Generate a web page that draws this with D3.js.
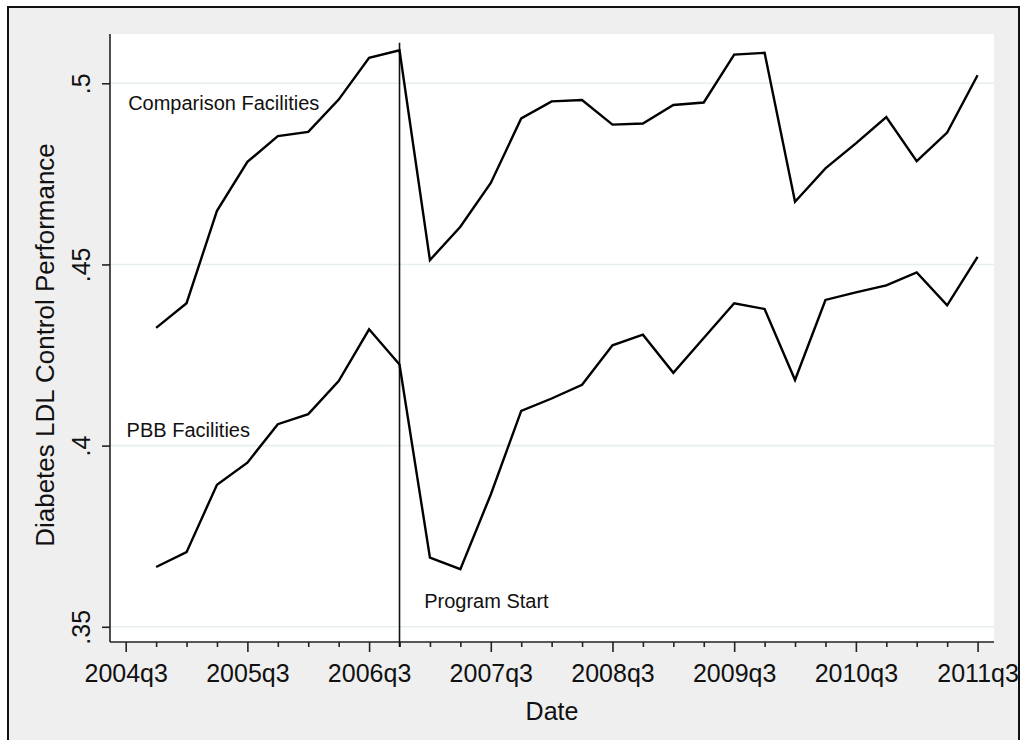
<!DOCTYPE html>
<html>
<head>
<meta charset="utf-8">
<script src="https://cdn.jsdelivr.net/npm/d3@7"></script>
<style>
  html, body { margin: 0; padding: 0; background: #ffffff; }
  svg { display: block; }
  text { font-family: "Liberation Sans", Arial, sans-serif; fill: #111; }
</style>
</head>
<body>
<svg id="chart" width="1021" height="740"></svg>
<script>
// Quarterly observation dates
const quarters = [
  "2004q4", "2005q1", "2005q2", "2005q3", "2005q4", "2006q1", "2006q2",
  "2006q3", "2006q4", "2007q1", "2007q2", "2007q3", "2007q4", "2008q1",
  "2008q2", "2008q3", "2008q4", "2009q1", "2009q2", "2009q3", "2009q4",
  "2010q1", "2010q2", "2010q3", "2010q4", "2011q1", "2011q2", "2011q3"
];

// Diabetes LDL control performance, comparison facilities
const comparison = [
  0.4325, 0.4393, 0.4648, 0.4783, 0.4854, 0.4866, 0.4955,
  0.5070, 0.5091, 0.4512, 0.4604, 0.4725, 0.4903, 0.4950,
  0.4954, 0.4886, 0.4889, 0.4940, 0.4947, 0.5079, 0.5084,
  0.4673, 0.4765, 0.4834, 0.4907, 0.4785, 0.4864, 0.5022
];

// Diabetes LDL control performance, PBB facilities
const pbb = [
  0.3665, 0.3706, 0.3892, 0.3953, 0.4059, 0.4087, 0.4178,
  0.4321, 0.4224, 0.3691, 0.3659, 0.3865, 0.4096, 0.4130,
  0.4168, 0.4277, 0.4306, 0.4201, 0.4297, 0.4393, 0.4377,
  0.4181, 0.4402, 0.4423, 0.4442, 0.4478, 0.4387, 0.4521
];

// Axis ticks
const yTicks = [0.35, 0.40, 0.45, 0.50];
const yTickLabels = [".35", ".4", ".45", ".5"];
const xMajorTicks = ["2004q3", "2005q3", "2006q3", "2007q3", "2008q3", "2009q3", "2010q3", "2011q3"];
const xMinorTicks = [
  "2004q4", "2005q1", "2005q2", "2005q4", "2006q1", "2006q2", "2006q4",
  "2007q1", "2007q2", "2007q4", "2008q1", "2008q2", "2008q4", "2009q1",
  "2009q2", "2009q4", "2010q1", "2010q2", "2010q4", "2011q1", "2011q2"
];

// Program start marker and in-plot annotations
const programStart = "2006q4";
const annotations = [
  { text: "Comparison Facilities", quarter: "2004q3", value: 0.4945, dq: 0.08 },
  { text: "PBB Facilities", quarter: "2004q3", value: 0.4043, dq: 0.03 },
  { text: "Program Start", quarter: "2007q1", value: 0.3571, dq: -0.19 }
];

// Stata-style quarterly date number (quarters since 1960q1)
function tq(s) {
  const [y, q] = s.split("q").map(Number);
  return (y - 1960) * 4 + (q - 1);
}

const svg = d3.select("#chart");

// Layout
const plot = { left: 110, right: 994, top: 34, bottom: 642 };

const x = d3.scaleLinear()
  .domain([tq("2004q3") - 0.516, tq("2011q3") + 0.54])
  .range([plot.left, plot.right]);

const y = d3.scaleLinear()
  .domain([0.3458, 0.5136])
  .range([plot.bottom, plot.top]);

// Outer graph region
svg.append("rect")
  .attr("x", 8).attr("y", 7)
  .attr("width", 1011).attr("height", 745)
  .attr("fill", "#efefef")
  .attr("stroke", "#111")
  .attr("stroke-width", 2);

// Plot region
svg.append("rect")
  .attr("x", plot.left).attr("y", plot.top)
  .attr("width", plot.right - plot.left)
  .attr("height", plot.bottom - plot.top)
  .attr("fill", "#ffffff");

// Horizontal gridlines
svg.append("g")
  .selectAll("line")
  .data(yTicks)
  .join("line")
  .attr("x1", plot.left).attr("x2", plot.right)
  .attr("y1", d => y(d)).attr("y2", d => y(d))
  .attr("stroke", "#e6eeef")
  .attr("stroke-width", 1.6);

// Y axis
const yAxis = svg.append("g")
  .attr("transform", `translate(${plot.left},0)`)
  .call(d3.axisLeft(y)
    .tickValues(yTicks)
    .tickFormat((d, i) => yTickLabels[i])
    .tickSize(8)
    .tickSizeOuter(0));
yAxis.select(".domain")
  .attr("d", `M0,${plot.top}V${plot.bottom}`)
  .attr("stroke", "#222").attr("stroke-width", 1.6);
yAxis.selectAll(".tick line").attr("stroke", "#222").attr("stroke-width", 1.6);
yAxis.selectAll(".tick text")
  .attr("font-size", 25)
  .attr("fill", "#111")
  .attr("x", 0).attr("y", 0)
  .attr("dy", 0)
  .attr("text-anchor", "middle")
  .attr("transform", "translate(-20,0) rotate(-90)");

// X axis: minor quarterly ticks
const xMinor = svg.append("g")
  .attr("transform", `translate(0,${plot.bottom})`)
  .call(d3.axisBottom(x)
    .tickValues(xMinorTicks.map(tq))
    .tickFormat("")
    .tickSize(5)
    .tickSizeOuter(0));
xMinor.select(".domain").remove();
xMinor.selectAll(".tick line").attr("stroke", "#222").attr("stroke-width", 1.6);

// X axis: labelled yearly ticks
const xAxis = svg.append("g")
  .attr("transform", `translate(0,${plot.bottom})`)
  .call(d3.axisBottom(x)
    .tickValues(xMajorTicks.map(tq))
    .tickFormat((d, i) => xMajorTicks[i])
    .tickSize(10)
    .tickSizeOuter(0));
xAxis.select(".domain")
  .attr("d", `M${plot.left},0H${plot.right}`)
  .attr("stroke", "#222").attr("stroke-width", 1.6);
xAxis.selectAll(".tick line").attr("stroke", "#222").attr("stroke-width", 1.6);
xAxis.selectAll(".tick text")
  .attr("font-size", 25)
  .attr("fill", "#111")
  .attr("y", 0).attr("dy", 0)
  .attr("transform", "translate(0,40)");

// Program start vertical line
svg.append("line")
  .attr("x1", x(tq(programStart))).attr("x2", x(tq(programStart)))
  .attr("y1", y(0.5112)).attr("y2", plot.bottom + 5)
  .attr("stroke", "#111")
  .attr("stroke-width", 1.6);

// Series lines
const line = d3.line()
  .x((d, i) => x(tq(quarters[i])))
  .y(d => y(d));

[comparison, pbb].forEach(series => {
  svg.append("path")
    .datum(series)
    .attr("d", line)
    .attr("fill", "none")
    .attr("stroke", "#000")
    .attr("stroke-width", 2.4)
    .attr("stroke-linejoin", "miter");
});

// Annotations
svg.append("g")
  .selectAll("text")
  .data(annotations)
  .join("text")
  .attr("x", d => x(tq(d.quarter) + d.dq))
  .attr("y", d => y(d.value))
  .attr("dy", "0.35em")
  .attr("font-size", 20)
  .text(d => d.text);

// Axis titles
svg.append("text")
  .attr("transform", `translate(54,345) rotate(-90)`)
  .attr("text-anchor", "middle")
  .attr("font-size", 26)
  .text("Diabetes LDL Control Performance");

svg.append("text")
  .attr("x", (plot.left + plot.right) / 2)
  .attr("y", 720)
  .attr("text-anchor", "middle")
  .attr("font-size", 25)
  .text("Date");
</script>
</body>
</html>
